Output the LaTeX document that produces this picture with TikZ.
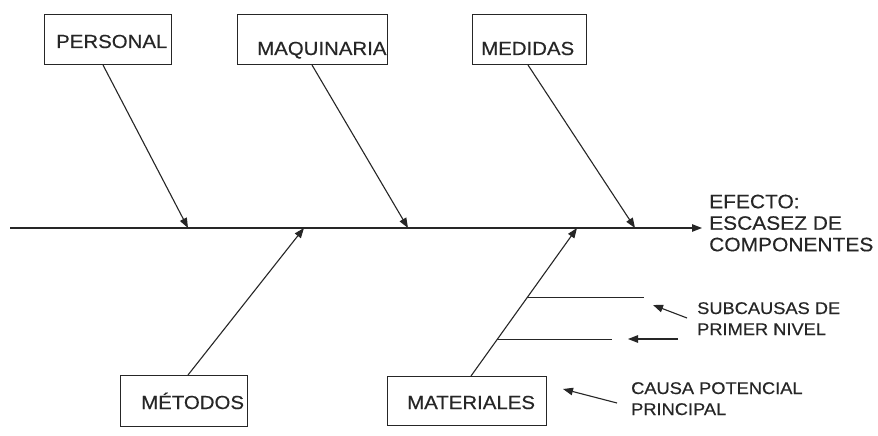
\documentclass[tikz,border=0pt]{standalone}
\usepackage{fontspec}
\setmainfont{Liberation Sans}[FakeStretch=1.08,FakeBold=0.4]
\usetikzlibrary{arrows.meta}
\begin{document}
\begin{tikzpicture}[x=1pt,y=-1pt,
  line/.style={draw=black!85, line width=1.1pt},
  arr/.style={line, -{Triangle[length=10pt,width=7.5pt]}},
  causebox/.style={draw=black!85, line width=1pt, inner sep=0pt, anchor=north west},
  boxtext/.style={inner sep=0pt, anchor=base west, text=black!85, font=\fontsize{18.9}{22}\selectfont},
  effecttext/.style={inner sep=0pt, anchor=base west, text=black!85, font=\fontsize{19.4}{21.5}\selectfont, align=left},
  notetext/.style={inner sep=0pt, anchor=base west, text=black!85, font=\fontsize{16.9}{21}\selectfont, align=left}]
  \useasboundingbox (0,0) rectangle (878,436);
  \fill[white] (0,0) rectangle (878,436);

  % main causes (boxes)
  \node[causebox, minimum width=127pt, minimum height=50pt] (personal) at (44,14) {};
  \node[causebox, minimum width=150pt, minimum height=50pt] (maquinaria) at (237,14) {};
  \node[causebox, minimum width=114pt, minimum height=50pt] (medidas) at (472,14) {};
  \node[causebox, minimum width=127pt, minimum height=51pt] (metodos) at (120,375) {};
  \node[causebox, minimum width=159pt, minimum height=49pt] (materiales) at (387,376) {};

  \node[boxtext] (personalT) at (56,48) {PERSONAL};
  \node[boxtext] (maquinariaT) at (257,55) {MAQUINARIA};
  \node[boxtext] (medidasT) at (481,55) {MEDIDAS};
  \node[boxtext] (metodosT) at (141,409) {MÉTODOS};
  \node[boxtext] (materialesT) at (407,409) {MATERIALES};

  % spine and effect
  \coordinate (tail) at (10,228);
  \node[effecttext, anchor=north west] (efecto) at (709,194.5) {EFECTO:\\ESCASEZ DE\\COMPONENTES};
  \coordinate (head) at (702,228);
  \draw[arr] (tail) -- (head);

  % junction points on the spine
  \coordinate (jP) at (188,228);
  \coordinate (jQ) at (408,228);
  \coordinate (jD) at (635,228);
  \coordinate (jM) at (304,228);
  \coordinate (jA) at (577,228);

  \draw[arr] ([xshift=59pt]personal.south west) -- (jP);
  \draw[arr] ([xshift=75pt]maquinaria.south west) -- (jQ);
  \draw[arr] ([xshift=56pt]medidas.south west) -- (jD);
  \draw[arr] ([xshift=68pt]metodos.north west) -- (jM);
  \draw[arr] ([xshift=84pt]materiales.north west) -- (jA);

  % first-level subcauses on the materials bone
  \coordinate (s1a) at (527,297);
  \coordinate (s1b) at (644,297);
  \coordinate (s2a) at (497,339);
  \coordinate (s2b) at (612,339);
  \draw[line, line width=0.9pt] (s1a) -- (s1b);
  \draw[line, line width=0.9pt] (s2a) -- (s2b);

  % annotations
  \node[notetext] (subcausas) at (697,335) {SUBCAUSAS DE\\PRIMER NIVEL};
  \node[notetext] (causa) at (631,415) {CAUSA POTENCIAL\\PRINCIPAL};

  \coordinate (n1s) at (687,318);
  \coordinate (n1t) at (653,305);
  \coordinate (n2s) at (678,339);
  \coordinate (n2t) at (628,339);
  \coordinate (n3s) at (617,403);
  \coordinate (n3t) at (563,389);
  \draw[arr] (n1s) -- (n1t);
  \draw[arr] (n2s) -- (n2t);
  \draw[arr] (n3s) -- (n3t);
\end{tikzpicture}
\end{document}
